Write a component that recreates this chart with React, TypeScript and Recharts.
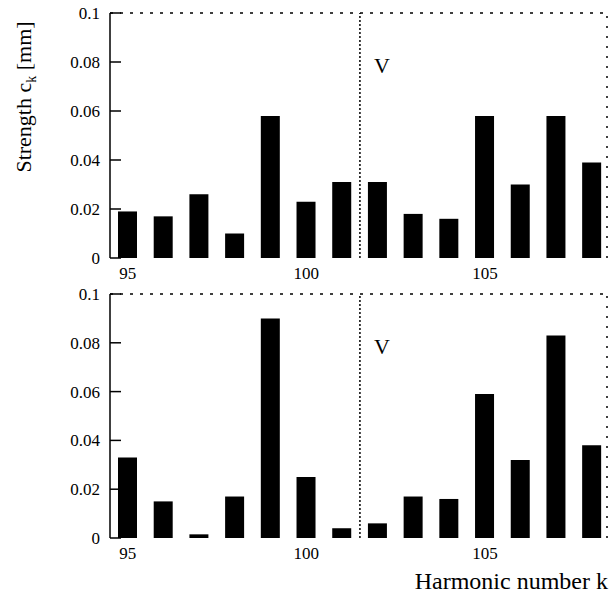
import React from 'react';
import { BarChart, Bar, XAxis, YAxis, ReferenceLine, Label } from 'recharts';

// harmonic numbers k and the strength c_k [mm]
const harmonics = [95, 96, 97, 98, 99, 100, 101, 102, 103, 104, 105, 106, 107, 108];
const upperStrength = [0.019, 0.017, 0.026, 0.01, 0.058, 0.023, 0.031, 0.031, 0.018, 0.016, 0.058, 0.03, 0.058, 0.039];
const lowerStrength = [0.033, 0.015, 0.0015, 0.017, 0.09, 0.025, 0.004, 0.006, 0.017, 0.016, 0.059, 0.032, 0.083, 0.038];
const yTicks = [0, 0.02, 0.04, 0.06, 0.08, 0.1];
const xTicks = [95, 100, 105];
const markerK = 101.5;
const markerText = 'V';

const FONT = '"Liberation Serif", "Times New Roman", "DejaVu Serif", serif';
const X_DOMAIN: [number, number] = [94.5, 108.42];

const LeftTick = (props: any) => {
  const { x, y, payload } = props;
  return (
    <g>
      <text x={x} y={y} dy={6} textAnchor="end" fontSize={17} fontFamily={FONT} fill="#000">
        {payload.value}
      </text>
      <line x1={x + 10} x2={x + 21} y1={y} y2={y} stroke="#000" strokeWidth={1.5} />
    </g>
  );
};

const YTitle = () => (
  <text transform="translate(31,97) rotate(-90)" textAnchor="middle" fontSize={22} fontFamily={FONT} fill="#000">
    Strength c
    <tspan dy={5} fontSize={14}>k</tspan>
    <tspan dy={-5}> [mm]</tspan>
  </text>
);

interface PanelProps {
  values: number[];
  height: number;
  marginTop: number;
  marginBottom: number;
  showTitle?: boolean;
}

const Panel: React.FC<PanelProps> = ({ values, height, marginTop, marginBottom, showTitle }) => {
  const data = harmonics.map((k, i) => ({ k, c: values[i] }));
  return (
    <BarChart
      width={609}
      height={height}
      data={data}
      margin={{ top: marginTop, right: 2, bottom: marginBottom, left: 0 }}
    >
      <XAxis
        dataKey="k"
        type="number"
        domain={X_DOMAIN}
        allowDataOverflow
        ticks={xTicks}
        tickLine={false}
        axisLine={false}
        tickSize={7}
        tickMargin={2}
        height={30}
        tick={{ fill: '#000', fontSize: 17, fontFamily: FONT }}
      />
      <YAxis
        domain={[0, 0.1]}
        ticks={yTicks}
        width={110}
        tickSize={0}
        tickMargin={10}
        tick={<LeftTick />}
        axisLine={{ stroke: '#000', strokeWidth: 1.5 }}
      >
        {showTitle && <Label content={<YTitle />} />}
      </YAxis>
      {/* dotted frame along the top and right edges */}
      <ReferenceLine y={0.1} stroke="#000" strokeWidth={1.5} strokeDasharray="3 7" />
      <ReferenceLine x={X_DOMAIN[1]} stroke="#000" strokeWidth={1.5} strokeDasharray="2 8" />
      <ReferenceLine x={markerK} stroke="#000" strokeWidth={1.5} strokeDasharray="2 2">
        <Label
          value={markerText}
          position="insideTopLeft"
          offset={14}
          dy={30}
          fontSize={22}
          fontFamily={FONT}
          fill="#000"
        />
      </ReferenceLine>
      <Bar dataKey="c" fill="#000" barSize={19} isAnimationActive={false} />
    </BarChart>
  );
};

export default function App() {
  return (
    <div
      style={{
        position: 'absolute',
        left: 0,
        top: 0,
        width: 609,
        height: 598,
        background: '#fff',
        fontFamily: FONT,
      }}
    >
      <div style={{ position: 'absolute', left: 0, top: 0 }}>
        <Panel values={upperStrength} height={290} marginTop={13} marginBottom={2} showTitle />
      </div>
      <div style={{ position: 'absolute', left: 0, top: 280 }}>
        <Panel values={lowerStrength} height={318} marginTop={14} marginBottom={30} />
      </div>
      <div
        style={{
          position: 'absolute',
          right: 1,
          top: 567,
          fontSize: 24,
          lineHeight: '28px',
          color: '#000',
          whiteSpace: 'nowrap',
        }}
      >
        Harmonic number k
      </div>
    </div>
  );
}
